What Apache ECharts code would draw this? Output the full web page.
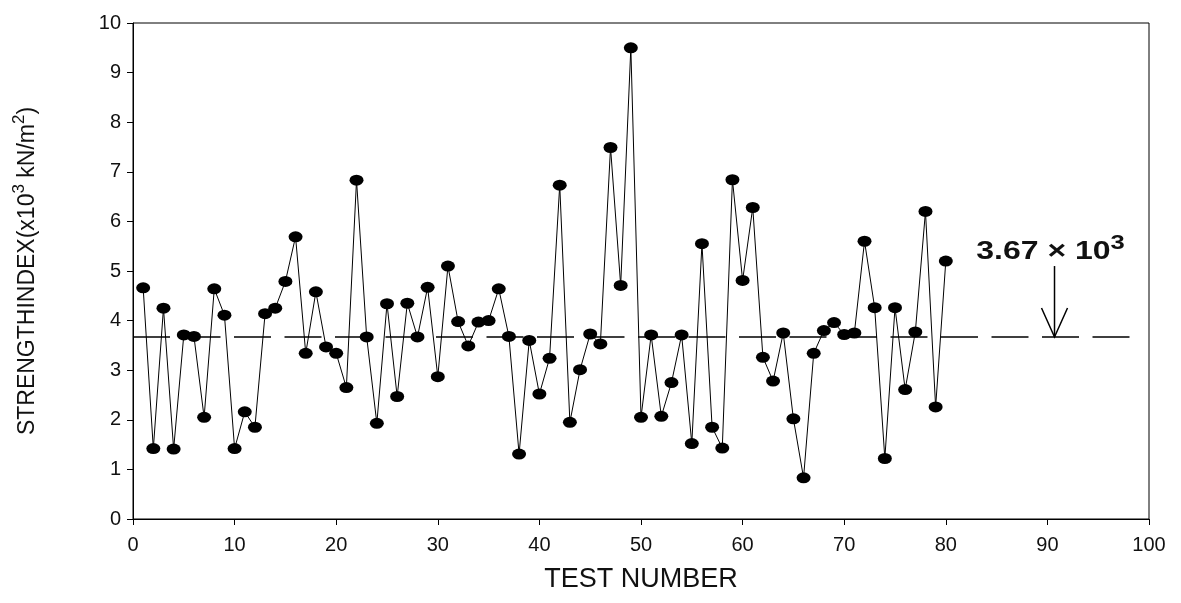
<!DOCTYPE html>
<html><head><meta charset="utf-8">
<script src="https://cdn.jsdelivr.net/npm/echarts@6/dist/echarts.min.js"></script>
<style>html,body{margin:0;padding:0;background:#fff}#c{width:1181px;height:603px}</style>
</head><body><div id="c"></div>
<script>
// ---- data ----
const testNumbers = [];
for (let n = 1; n <= 80; n++) testNumbers.push(n);
const strengthIndex = [
  4.66, 1.42, 4.25, 1.41, 3.71, 3.68, 2.05, 4.64, 4.11, 1.42,
  2.16, 1.85, 4.14, 4.25, 4.79, 5.69, 3.34, 4.58, 3.47, 3.34,
  2.65, 6.83, 3.67, 1.93, 4.34, 2.47, 4.35, 3.67, 4.67, 2.87,
  5.10, 3.98, 3.49, 3.97, 4.00, 4.64, 3.68, 1.31, 3.60, 2.52,
  3.24, 6.73, 1.95, 3.01, 3.73, 3.53, 7.49, 4.71, 9.50, 2.05,
  3.71, 2.07, 2.75, 3.71, 1.52, 5.55, 1.85, 1.43, 6.84, 4.81,
  6.28, 3.26, 2.78, 3.75, 2.02, 0.83, 3.34, 3.80, 3.96, 3.72,
  3.75, 5.60, 4.26, 1.22, 4.26, 2.61, 3.77, 6.20, 2.26, 5.20
];
const meanValue = 3.67;
const meanLineX = [0, 98.7];
const arrowX = 90.7;
const arrowTopY = 5.1;
const labelY = 4.99;
const xTicks = [0, 100, 10];
const yTicks = [0, 10, 1];

const FONT = "'Liberation Sans', Arial, sans-serif";
const chart = echarts.init(document.getElementById('c'), null, {renderer: 'canvas'});
chart.setOption({
  animation: false,
  backgroundColor: '#fff',
  grid: {left: 133, right: 32, top: 23, bottom: 84, show: true, borderColor: '#000', borderWidth: 1, backgroundColor: 'transparent'},
  xAxis: {
    type: 'value', min: xTicks[0], max: xTicks[1], interval: xTicks[2],
    axisLine: {show: true, onZero: false, lineStyle: {color: '#000', width: 1}},
    axisTick: {show: true, inside: false, length: 6, lineStyle: {color: '#000', width: 1}},
    splitLine: {show: false},
    axisLabel: {color: '#111', fontSize: 20, fontFamily: FONT, margin: 16},
    name: 'TEST NUMBER', nameLocation: 'middle', nameGap: 47,
    nameTextStyle: {color: '#111', fontSize: 27, fontFamily: FONT}
  },
  yAxis: {
    type: 'value', min: yTicks[0], max: yTicks[1], interval: yTicks[2],
    axisLine: {show: true, onZero: false, lineStyle: {color: '#000', width: 1}},
    axisTick: {show: true, inside: false, length: 6, lineStyle: {color: '#000', width: 1}},
    splitLine: {show: false},
    axisLabel: {color: '#111', fontSize: 20, fontFamily: FONT, margin: 12},
    name: '{a|STRENGTHINDEX(x10}{s|3}{a| kN/m}{s|2}{a|)}',
    nameLocation: 'middle', nameGap: 88, nameRotate: 90,
    nameTextStyle: {
      color: '#111', fontFamily: FONT,
      rich: {
        a: {fontSize: 23, lineHeight: 34, fontFamily: FONT, color: '#111'},
        s: {fontSize: 17, lineHeight: 17, verticalAlign: 'top', fontFamily: FONT, color: '#111'}
      }
    }
  },
  series: [
    {
      type: 'line', silent: true, z: 1,
      data: meanLineX.map(x => [x, meanValue]),
      symbol: 'none',
      lineStyle: {color: '#000', width: 1.5, type: [37, 13.5]}
    },
    {
      type: 'line', z: 2,
      data: testNumbers.map((n, i) => [n, strengthIndex[i]]),
      symbol: 'circle', symbolSize: [14, 11],
      itemStyle: {color: '#000'},
      lineStyle: {color: '#000', width: 1}
    }
  ]
});

const tip = chart.convertToPixel({gridIndex: 0}, [arrowX, meanValue]);
const tail = chart.convertToPixel({gridIndex: 0}, [arrowX, arrowTopY]);
const lab = chart.convertToPixel({gridIndex: 0}, [arrowX, labelY]);
chart.setOption({
  graphic: [
    {type: 'polyline', shape: {points: [tail, tip]}, style: {stroke: '#000', lineWidth: 1.5, fill: null}, z: 10},
    {type: 'polyline', shape: {points: [[tip[0] - 13, tip[1] - 29], tip, [tip[0] + 13, tip[1] - 29]]}, style: {stroke: '#000', lineWidth: 1.5, fill: null}, z: 10},
    {
      type: 'text', x: lab[0] - 4, y: lab[1], scaleX: 1.28, z: 10,
      style: {
        text: '{m|3.67 × 10}{s|3}', align: 'center', verticalAlign: 'bottom',
        rich: {
          m: {fontSize: 25, fontWeight: 'bold', fontFamily: FONT, fill: '#111', lineHeight: 38},
          s: {fontSize: 20, fontWeight: 'bold', fontFamily: FONT, fill: '#111', lineHeight: 20, verticalAlign: 'top'}
        }
      }
    }
  ]
});
</script></body></html>
